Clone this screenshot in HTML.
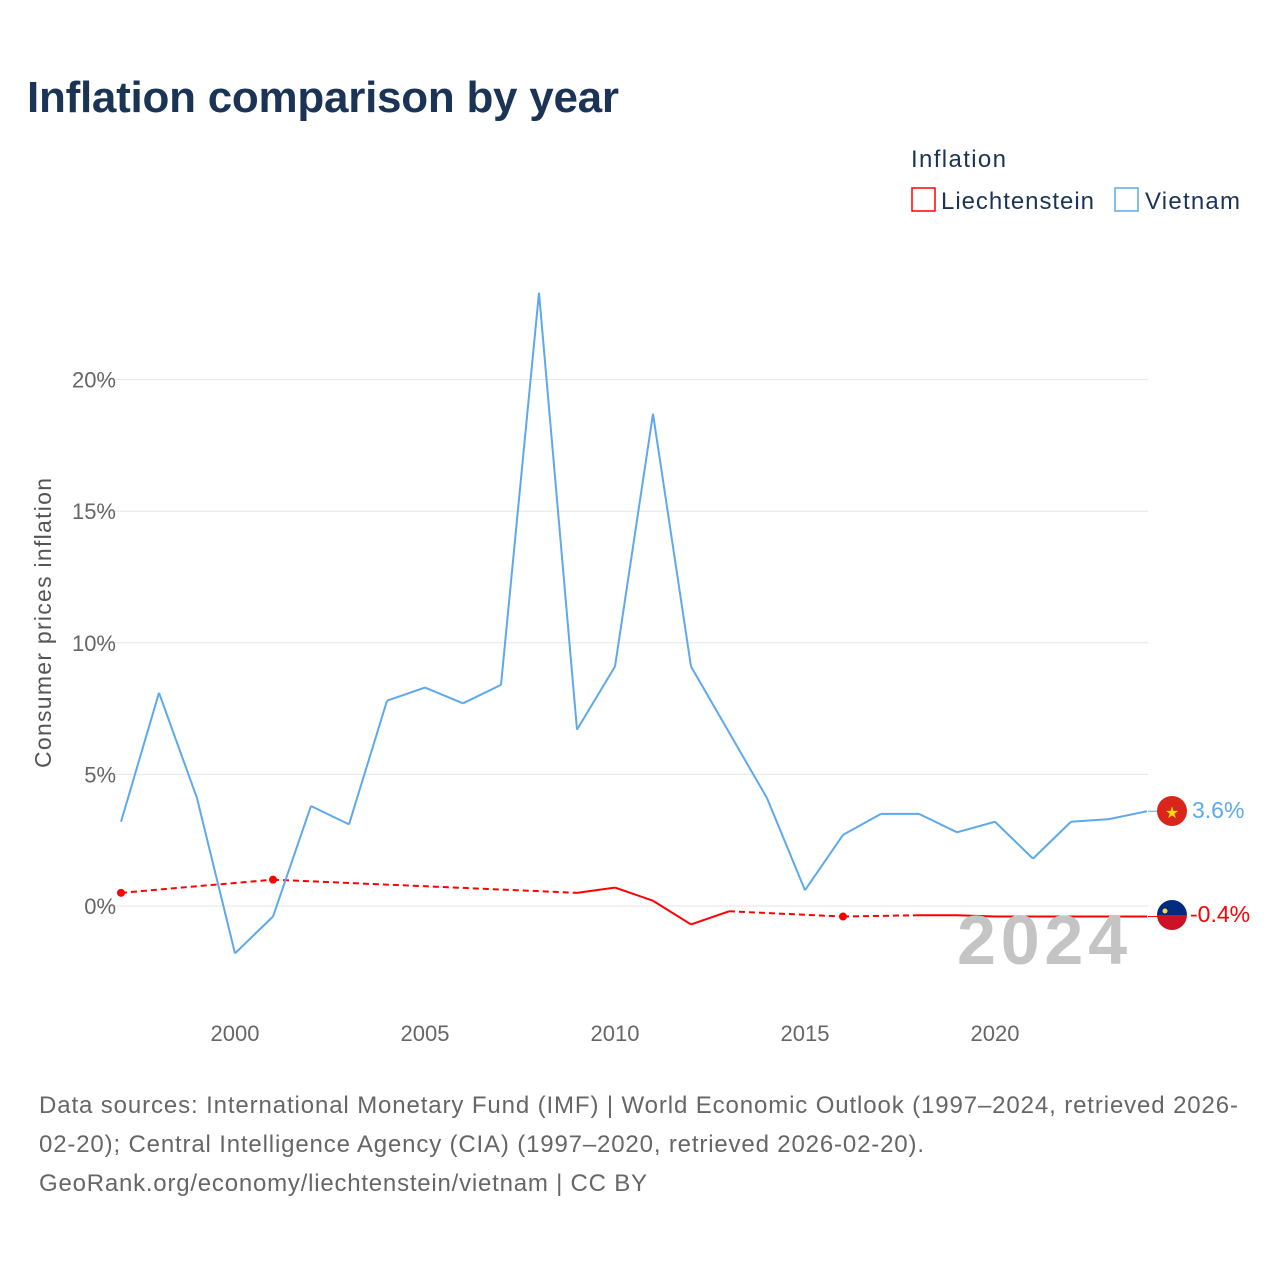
<!DOCTYPE html>
<html><head><meta charset="utf-8"><style>
body{margin:0;background:#fff;font-family:"Liberation Sans",sans-serif;}
svg{display:block}
</style></head><body>
<svg id="chart" width="1280" height="1280">
<text x="27" y="112" font-size="44" font-weight="bold" fill="#1b3456" textLength="592">Inflation comparison by year</text>
<text x="911" y="167" font-size="24" fill="#1b3456" textLength="95">Inflation</text>
<g><rect x="912" y="188" width="23" height="23" fill="none" stroke="#ff0000" stroke-width="1.5"/><text x="941" y="209" font-size="24" fill="#1b3456" textLength="153">Liechtenstein</text></g>
<g><rect x="1115" y="188" width="23" height="23" fill="none" stroke="#5ea8ec" stroke-width="1.5"/><text x="1145" y="209" font-size="24" fill="#1b3456" textLength="95">Vietnam</text></g>
<text transform="translate(51,623) rotate(-90)" text-anchor="middle" font-size="23" fill="#555" textLength="290">Consumer prices inflation</text>
<g id="grid"></g><g id="series"></g>
<text x="957" y="964" font-size="70" font-weight="bold" fill="#c4c4c4" textLength="170">2024</text>
<g><circle cx="1172" cy="811" r="15" fill="#da251d"/><text x="1172" y="818" text-anchor="middle" font-size="16" fill="#ffde00">★</text></g>
<g><clipPath id="lc"><circle cx="1172" cy="915" r="15"/></clipPath><g clip-path="url(#lc)"><rect x="1157" y="900" width="30" height="15" fill="#002b7f"/><rect x="1157" y="915" width="30" height="15" fill="#ce1126"/></g><circle cx="1165" cy="911" r="2.5" fill="#ffd83d"/></g>
<text x="1192" y="818" font-size="23" fill="#5ea8ec">3.6%</text>
<text x="1190" y="922" font-size="23" fill="#ff0000">-0.4%</text>
<text font-size="24" fill="#666"><tspan x="39" y="1113" textLength="1199">Data sources: International Monetary Fund (IMF) | World Economic Outlook (1997–2024, retrieved 2026-</tspan><tspan x="39" y="1152" textLength="885">02-20); Central Intelligence Agency (CIA) (1997–2020, retrieved 2026-02-20).</tspan><tspan x="39" y="1191" textLength="608">GeoRank.org/economy/liechtenstein/vietnam | CC BY</tspan></text>
</svg>
<script>
const years=[1997,1998,1999,2000,2001,2002,2003,2004,2005,2006,2007,2008,2009,2010,2011,2012,2013,2014,2015,2016,2017,2018,2019,2020,2021,2022,2023,2024];
const vietnam=[3.2,8.1,4.1,-1.8,-0.4,3.8,3.1,7.8,8.3,7.7,8.4,23.3,6.7,9.1,18.7,9.1,6.6,4.1,0.6,2.7,3.5,3.5,2.8,3.2,1.8,3.2,3.3,3.6];
const liechtenstein=[0.5,null,null,null,1.0,null,null,null,null,null,null,null,0.5,0.7,0.2,-0.7,-0.2,null,null,-0.4,null,-0.35,-0.35,-0.4,-0.4,-0.4,-0.4,-0.4];
const yTicks=[0,5,10,15,20];
const xTicks=[2000,2005,2010,2015,2020];
const X=y=>121+(y-1997)*38;
const Y=v=>906-v*26.32;
const NS="http://www.w3.org/2000/svg";
function mk(t,a,p){const e=document.createElementNS(NS,t);for(const k in a)e.setAttribute(k,a[k]);p.appendChild(e);return e;}
const grid=document.getElementById('grid'),ser=document.getElementById('series');
yTicks.forEach(t=>{
 const l=mk('line',{x1:100,x2:1148,y1:Y(t),y2:Y(t),stroke:'#e6e6e6','stroke-width':1},grid);
 
 
 const tx=mk('text',{x:116,y:Y(t)+8,'text-anchor':'end','font-size':22,fill:'#666'},grid);tx.textContent=t+'%';
 
 
});
xTicks.forEach(t=>{
 const tx=mk('text',{x:X(t),y:1041,'text-anchor':'middle','font-size':22,fill:'#666'},grid);tx.textContent=t;
 
 
});
mk('line',{x1:1148,x2:1160,y1:Y(3.6),y2:Y(3.6),stroke:'#5ea8ec'},ser);
mk('line',{x1:1148,x2:1160,y1:Y(-0.4),y2:Y(-0.4),stroke:'#ff0000'},ser);
function draw(vals,color,name){
 const idx=vals.map((v,i)=>v==null?-1:i).filter(i=>i>=0);
 for(let k=0;k<idx.length-1;k++){
  const a=idx[k],b=idx[k+1];
  const l=mk('line',{x1:X(years[a]),y1:Y(vals[a]),x2:X(years[b]),y2:Y(vals[b]),stroke:color,'stroke-width':2,'stroke-dasharray':b-a>1?'6,4':'none'},ser);
  
  
 }
 idx.forEach(i=>{
  const prev=i>0&&vals[i-1]!=null,next=i<vals.length-1&&vals[i+1]!=null;
  if(!prev&&!next){const c=mk('circle',{cx:X(years[i]),cy:Y(vals[i]),r:4,fill:color},ser);
   
   }
 });
}
draw(liechtenstein,'#ff0000','liechtenstein');
draw(vietnam,'#5ea8ec','vietnam');
</script>
</body></html>
